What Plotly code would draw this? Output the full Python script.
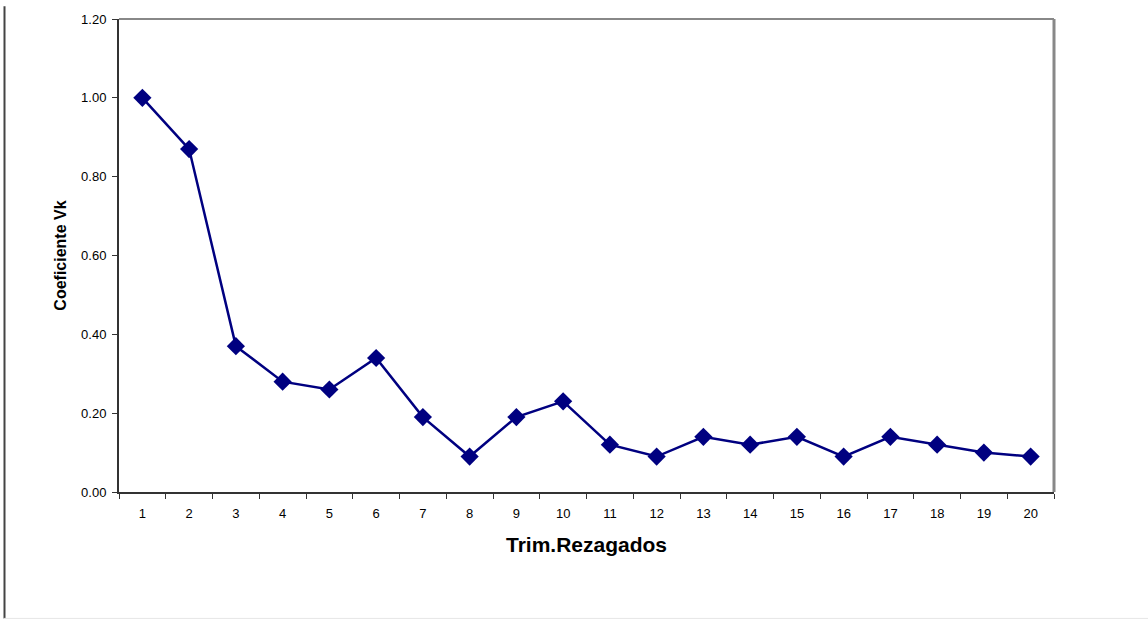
import plotly.graph_objects as go

categories = [str(i) for i in range(1, 21)]
values = [1.00, 0.87, 0.37, 0.28, 0.26, 0.34, 0.19, 0.09, 0.19, 0.23,
          0.12, 0.09, 0.14, 0.12, 0.14, 0.09, 0.14, 0.12, 0.10, 0.09]
y_ticks = [0.0, 0.2, 0.4, 0.6, 0.8, 1.0, 1.2]
y_tick_labels = ["0.00", "0.20", "0.40", "0.60", "0.80", "1.00", "1.20"]

W, H = 1148, 621
L, R, T, B = 119, 94, 13, 129
pw, ph = W - L - R, H - T - B

def px_x(x):
    return (x - L) / pw

def px_y(y):
    return (H - B - y) / ph

fig = go.Figure(go.Scatter(
    x=categories, y=values, mode="lines+markers",
    line=dict(color="#000080", width=2.5),
    marker=dict(symbol="diamond", size=14, color="#000080"),
    cliponaxis=False,
))

font = "Liberation Sans, Arial, sans-serif"
fig.update_layout(
    width=W, height=H,
    margin=dict(l=L, r=R, t=T, b=B),
    paper_bgcolor="white", plot_bgcolor="white",
    showlegend=False,
    font=dict(family=font, size=13, color="black"),
    xaxis=dict(
        type="category", tickson="boundaries", range=[-0.5, 19.5],
        showline=True, linecolor="#333333", linewidth=2,
        ticks="outside", ticklen=5, tickcolor="#333333", tickwidth=1,
        ticklabelstandoff=8,
        showgrid=False, zeroline=False,
        tickfont=dict(size=13, family=font),
        title=dict(text="<b>Trim.Rezagados</b>", font=dict(size=21, family=font), standoff=18),
    ),
    yaxis=dict(
        range=[0, 1.2], tickvals=y_ticks, ticktext=y_tick_labels,
        showline=True, linecolor="#333333", linewidth=2,
        ticks="outside", ticklen=5, tickcolor="#333333", tickwidth=1,
        ticklabelstandoff=3,
        showgrid=False, zeroline=False,
        tickfont=dict(size=13, family=font),
        title=dict(text="<b>Coeficiente Vk</b>", font=dict(size=16, family=font), standoff=10),
    ),
    shapes=[
        dict(type="line", xref="paper", yref="paper", x0=0, x1=1, y0=1, y1=1,
             line=dict(color="#888888", width=2)),
        dict(type="line", xref="paper", yref="paper", x0=1, x1=1, y0=0, y1=1,
             line=dict(color="#888888", width=3)),
        dict(type="line", xref="paper", yref="paper", x0=px_x(4.5), x1=px_x(4.5),
             y0=px_y(0), y1=px_y(620), line=dict(color="#444444", width=2)),
        dict(type="line", xref="paper", yref="paper", x0=px_x(4), x1=px_x(1148),
             y0=px_y(620), y1=px_y(620), line=dict(color="#e6e6e6", width=1)),
    ],
)

fig.write_html(
    "out.html",
    config={"displayModeBar": False},
    post_script="document.body.style.margin='0';document.body.style.overflow='hidden';",
)
